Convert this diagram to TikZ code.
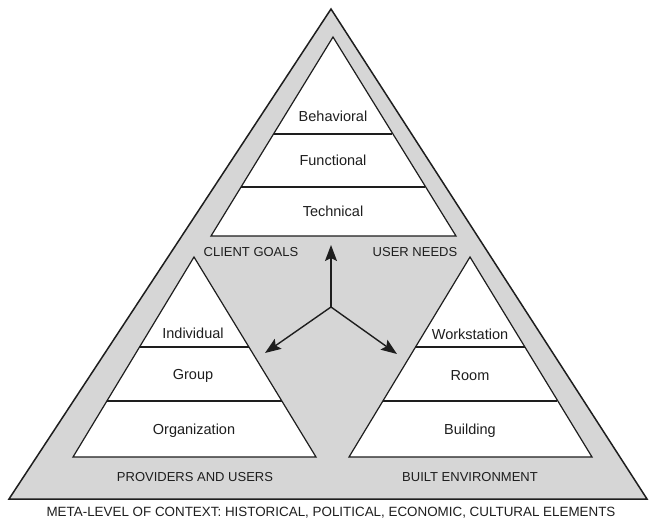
\documentclass[tikz,border=0pt]{standalone}
\usepackage{fontspec}
\setmainfont{Liberation Sans}
\usetikzlibrary{arrows.meta}
\definecolor{bandgray}{RGB}{214,214,214}
\definecolor{ink}{RGB}{30,30,30}
\tikzset{
  outertri/.style={draw=ink, fill=bandgray, line width=1.5bp, line join=miter},
  innertri/.style={draw=ink, fill=white, line width=1.2bp, line join=miter},
  divider/.style={draw=ink, line width=1.2bp},
  layer/.style={text=ink, font=\fontsize{14.5bp}{16bp}\selectfont, inner sep=0pt},
  caplabel/.style={text=ink, font=\fontsize{13bp}{15bp}\selectfont, inner sep=0pt},
  metalabel/.style={text=ink, font=\fontsize{13.4bp}{15bp}\selectfont, inner sep=0pt},
  flow/.style={draw=ink, line width=1.4bp, -{Stealth[length=16bp,width=12bp,inset=3bp]}}
}
\begin{document}
\begin{tikzpicture}[x=1bp,y=-1bp]
\useasboundingbox (0,0) rectangle (649,525);
% outer gray triangle
\draw[outertri] (9,499) -- (331,9) -- (647,499) -- cycle;
% top white triangle
\draw[innertri] (211,236) -- (333,37) -- (456,236) -- cycle;
\draw[divider] (274,134) -- (392,134);
\draw[divider] (241,187) -- (425,187);
% left white triangle
\draw[innertri] (73,457) -- (194,257) -- (316,457) -- cycle;
\draw[divider] (139,347) -- (249,347);
\draw[divider] (107,401) -- (282,401);
% right white triangle
\draw[innertri] (349,457) -- (470,257) -- (592,457) -- cycle;
\draw[divider] (415,347) -- (525,347);
\draw[divider] (383,401) -- (557,401);
% layer labels
\node[layer] (beh) at (333,116) {Behavioral};
\node[layer] (fun) at (333,160) {Functional};
\node[layer] (tec) at (333,211) {Technical};
\node[layer] (ind) at (193,333) {Individual};
\node[layer] (grp) at (193,376) {Group};
\node[layer] (org) at (194,431) {Organization};
\node[layer] (wrk) at (470,334) {Workstation};
\node[layer] (rom) at (470,376) {Room};
\node[layer] (bld) at (470,431) {Building};
% caption labels
\node[caplabel] (cg) at (251,252) {CLIENT GOALS};
\node[caplabel] (un) at (415,252) {USER NEEDS};
\node[caplabel] (pu) at (195,477) {PROVIDERS AND USERS};
\node[caplabel] (be) at (470,477) {BUILT ENVIRONMENT};
\node[metalabel] (meta) at (331,513) {META-LEVEL OF CONTEXT: HISTORICAL, POLITICAL, ECONOMIC, CULTURAL ELEMENTS};
% arrows
\coordinate (hub) at (331,307);
\coordinate (tipup) at (331,245);
\coordinate (tipleft) at (265,353);
\coordinate (tipright) at (397,354);
\draw[flow] (hub) -- (tipup);
\draw[flow] (hub) -- (tipleft);
\draw[flow] (hub) -- (tipright);
\end{tikzpicture}
\end{document}
